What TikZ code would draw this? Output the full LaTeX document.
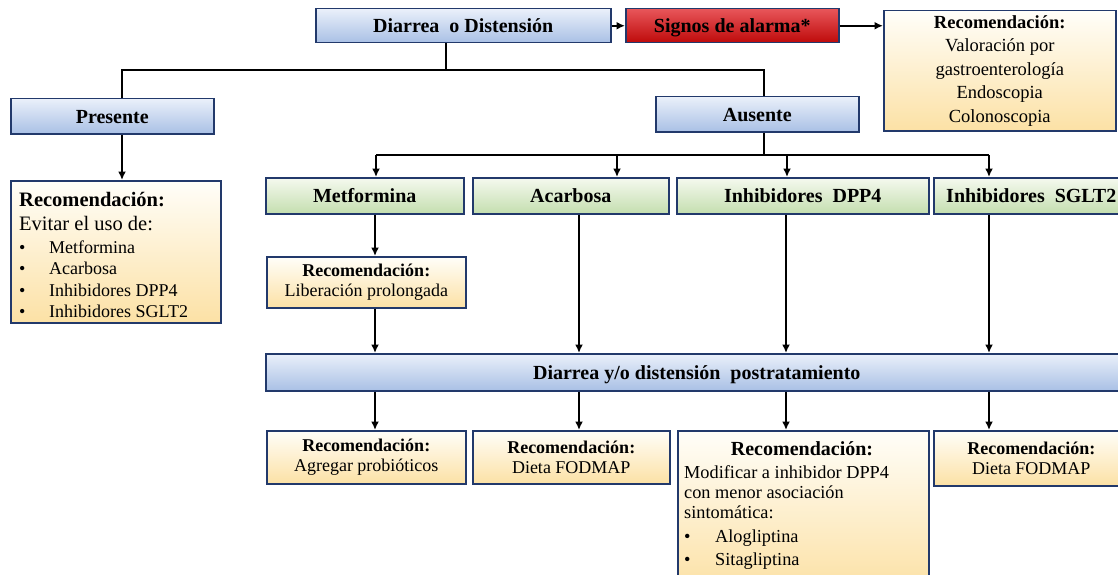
\documentclass[tikz,border=0pt]{standalone}
\usepackage{fontspec}
\setmainfont{Liberation Serif}
\usetikzlibrary{arrows.meta}
\definecolor{bordc}{HTML}{22396B}
\definecolor{blueT}{HTML}{EAF0FA}
\definecolor{blueB}{HTML}{A9C0E5}
\definecolor{greenT}{HTML}{F5F9EF}
\definecolor{greenB}{HTML}{C4DEAF}
\definecolor{redT}{HTML}{E8565A}
\definecolor{redB}{HTML}{BE0A0A}
\definecolor{yelT}{HTML}{FFFEF9}
\definecolor{yelB}{HTML}{FCE1A5}
\tikzset{
  box/.style={draw=bordc, line width=1.5pt, inner sep=0pt, anchor=north west, align=center},
  bluebox/.style={box, top color=blueT, bottom color=blueB},
  greenbox/.style={box, top color=greenT, bottom color=greenB},
  redbox/.style={box, top color=redT, bottom color=redB},
  yelbox/.style={box, top color=yelT, bottom color=yelB},
  hdr/.style={font=\fontsize{20}{24}\selectfont\bfseries, text height=15pt, text depth=1pt},
  rec/.style={font=\fontsize{18}{20.5}\selectfont},
  conn/.style={line width=2.2pt, draw=black},
  arr/.style={conn, -{Latex[length=8.5pt,width=8pt]}},
  txt/.style={inner sep=0pt, anchor=base west},
}
\begin{document}
\begin{tikzpicture}[x=1pt,y=-1pt]
\clip (0,0) rectangle (1118,575);
\fill[white] (0,0) rectangle (1118,575);

% top row
\node[bluebox, hdr, minimum width=295, minimum height=34] (diarrea) at (315,8) {Diarrea~ o Distensión};
\node[redbox, hdr, minimum width=213, minimum height=34] (signos) at (625,8) {Signos de alarma*};
\node[yelbox, font=\fontsize{18.5}{23.5}\selectfont, minimum width=232, minimum height=120] (toprec) at (883,10)
  {\textbf{Recomendación:}\\Valoración por\\gastroenterología\\Endoscopia\\Colonoscopia};

% second row
\node[bluebox, hdr, minimum width=203, minimum height=35] (presente) at (10,98) {Presente};
\node[bluebox, hdr, minimum width=203, minimum height=35] (ausente) at (655,96) {Ausente};

% left recommendation
\node[yelbox, minimum width=210, minimum height=142] (leftrec) at (10,180) {};
\node[txt, font=\fontsize{20.5}{24}\selectfont\bfseries] (lr1) at (19,206) {Recomendación:};
\node[txt, font=\fontsize{20.5}{24}\selectfont] (lr2) at (19,230) {Evitar el uso de:};
\node[txt, rec] (lr3) at (19,253) {\makebox[30pt][l]{•}Metformina};
\node[txt, rec] (lr4) at (19,274) {\makebox[30pt][l]{•}Acarbosa};
\node[txt, rec] (lr5) at (19,296) {\makebox[30pt][l]{•}Inhibidores DPP4};
\node[txt, rec] (lr6) at (19,317) {\makebox[30pt][l]{•}Inhibidores SGLT2};

% drug row
\node[greenbox, hdr, minimum width=198, minimum height=36] (met) at (265,177) {Metformina};
\node[greenbox, hdr, minimum width=196, minimum height=36] (aca) at (472,177) {Acarbosa};
\node[greenbox, hdr, minimum width=252, minimum height=36] (dpp) at (676,177) {Inhibidores~ DPP4};
\node[greenbox, hdr, minimum width=195, minimum height=36] (sglt) at (933,177) {Inhibidores~ SGLT2};

\node[yelbox, rec, minimum width=199, minimum height=51] (lib) at (266,256) {\textbf{Recomendación:}\\Liberación prolongada};

\node[bluebox, hdr, minimum width=862, minimum height=37] (post) at (265,353) {Diarrea y/o distensión~ postratamiento};

% bottom recommendations
\node[yelbox, rec, minimum width=199, minimum height=53] (agr) at (266,430) {\textbf{Recomendación:}\\Agregar probióticos};
\node[yelbox, rec, minimum width=197, minimum height=53] (diet1) at (472,430) {\textbf{Recomendación:}\\Dieta FODMAP};
\node[yelbox, minimum width=251, minimum height=160] (mod) at (677,430) {};
\node[inner sep=0pt, anchor=base, font=\fontsize{20}{24}\selectfont\bfseries] (mr1) at (802,455) {Recomendación:};
\node[txt, font=\fontsize{18.3}{21}\selectfont] (mr2) at (684,478) {Modificar a inhibidor DPP4};
\node[txt, font=\fontsize{18.3}{21}\selectfont] (mr3) at (684,498) {con menor asociación};
\node[txt, font=\fontsize{18.3}{21}\selectfont] (mr4) at (684,518) {sintomática:};
\node[txt, font=\fontsize{18.3}{21}\selectfont] (mr5) at (684,542) {\makebox[31pt][l]{•}Alogliptina};
\node[txt, font=\fontsize{18.3}{21}\selectfont] (mr6) at (684,565) {\makebox[31pt][l]{•}Sitagliptina};
\node[yelbox, rec, minimum width=195, minimum height=55] (diet2) at (933,430) {\textbf{Recomendación:}\\Dieta FODMAP};

% junction coordinates
\coordinate (jd) at (446,70);
\coordinate (jl) at (122,70);
\coordinate (jr) at (764,70);
\coordinate (ja) at (764,155);
\coordinate (b1) at (376,155);
\coordinate (b2) at (617,155);
\coordinate (b3) at (787,155);
\coordinate (b4) at (989,155);
\coordinate (c1) at (375,0);
\coordinate (c2) at (579,0);
\coordinate (c3) at (786,0);
\coordinate (c4) at (989,0);

% connectors
\draw[arr] (diarrea.east) -- (signos.west);
\draw[arr] (signos.east) -- (signos.east -| toprec.west);
\draw[conn] (jd |- diarrea.south) -- (jd);
\draw[conn] (jl |- presente.north) -- (jl) -- (jr) -- (jr |- ausente.north);
\draw[arr] (jl |- presente.south) -- (jl |- leftrec.north);
\draw[conn] (ja |- ausente.south) -- (ja);
\draw[conn] (b1) -- (b4);
\draw[arr] (b1) -- (b1 |- met.north);
\draw[arr] (b2) -- (b2 |- aca.north);
\draw[arr] (b3) -- (b3 |- dpp.north);
\draw[arr] (b4) -- (b4 |- sglt.north);
\draw[arr] (c1 |- met.south) -- (c1 |- lib.north);
\draw[arr] (c1 |- lib.south) -- (c1 |- post.north);
\draw[arr] (c2 |- aca.south) -- (c2 |- post.north);
\draw[arr] (c3 |- dpp.south) -- (c3 |- post.north);
\draw[arr] (c4 |- sglt.south) -- (c4 |- post.north);
\draw[arr] (c1 |- post.south) -- (c1 |- agr.north);
\draw[arr] (c2 |- post.south) -- (c2 |- diet1.north);
\draw[arr] (c3 |- post.south) -- (c3 |- mod.north);
\draw[arr] (c4 |- post.south) -- (c4 |- diet2.north);
\end{tikzpicture}
\end{document}
